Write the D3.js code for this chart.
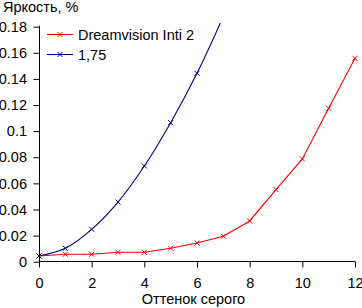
<!DOCTYPE html>
<html><head><meta charset="utf-8">
<script src="https://cdn.jsdelivr.net/npm/d3@7"></script>
<style>body{margin:0;background:#fff}svg{display:block}text{font-family:"Liberation Sans",Arial,sans-serif;font-size:14.5px;fill:#000}</style>
</head><body><svg id="c" width="362" height="308"></svg>
<script>
const categories = [0,1,2,3,4,5,6,7,8,9,10,11,12];
const seriesNames = ["Dreamvision Inti 2", "1,75"];
const dreamvision = [0.0044,0.0057,0.0057,0.0072,0.0072,0.0103,0.0143,0.0195,0.0312,0.0552,0.0787,0.1175,0.1558];
const gamma175 = [0.0044,0.0103,0.0248,0.0457,0.0733,0.1065,0.1443,0.188,0.236,0.290,0.349,0.414,0.484];
const xTicks = [0,2,4,6,8,10,12];
const yTicks = [0,0.02,0.04,0.06,0.08,0.1,0.12,0.14,0.16,0.18];
const colors = ["#ff0000","#000080"];

const svg = d3.select("#c");
const x = d3.scaleLinear().domain([0,12]).range([39,355]);
const y = d3.scaleLinear().domain([0,0.18]).range([261.7,26.7]);

svg.append("defs").append("clipPath").attr("id","clip")
  .append("rect").attr("x",30).attr("y",23).attr("width",332).attr("height",250);

const yAxis = svg.append("g").attr("transform","translate(39.5,0)")
  .call(d3.axisLeft(y).tickValues(yTicks).tickSize(6).tickPadding(6).tickFormat(d=>d===0?"0":String(+d.toFixed(2))));
yAxis.select(".domain").attr("d","M0,"+(y(0.18)-1)+"V"+y(0));
const xAxis = svg.append("g").attr("transform","translate(0,261.5)")
  .call(d3.axisBottom(x).tickValues(xTicks).tickSize(6).tickPadding(10).tickFormat(d3.format("d")));
xAxis.select(".domain").attr("d","M"+x(0)+",0H"+x(12));
svg.selectAll(".tick text").style("font-family","Liberation Sans, Arial, sans-serif").style("font-size","14.5px").attr("fill","#000");
svg.selectAll(".domain, .tick line").attr("stroke","#000");
yAxis.selectAll(".tick text").attr("x",-12.5);

svg.append("text").attr("x",3).attr("y",12).text("Яркость, %");
svg.append("text").attr("x",193.5).attr("y",303.5).attr("text-anchor","middle").text("Оттенок серого");

const line = d3.line().x((d,i)=>x(categories[i])).y(d=>y(d)).curve(d3.curveCatmullRom.alpha(0.5));
const plot = svg.append("g").attr("clip-path","url(#clip)");
[dreamvision, gamma175].forEach((s,k)=>{
  plot.append("path").attr("d",(k===0?d3.line().x((d,i)=>x(categories[i])).y(d=>y(d)):line)(s)).attr("fill","none").attr("stroke",colors[k]).attr("stroke-width",1.1);
  plot.selectAll(null).data(s).enter().append("path")
    .attr("transform",(d,i)=>`translate(${x(categories[i])},${y(d)})`)
    .attr("d","M-2.5,-2.5L2.5,2.5M-2.5,2.5L2.5,-2.5").attr("stroke",colors[k]).attr("stroke-width",1);
});

const lg = svg.append("g");
seriesNames.forEach((n,k)=>{
  const yy = 34.5 + k*20;
  lg.append("line").attr("x1",47).attr("x2",73).attr("y1",yy).attr("y2",yy).attr("stroke",colors[k]).attr("stroke-width",1.1);
  lg.append("path").attr("transform",`translate(60,${yy})`).attr("d","M-2.5,-2.5L2.5,2.5M-2.5,2.5L2.5,-2.5").attr("stroke",colors[k]);
  lg.append("text").attr("x",78).attr("y",yy+5).text(n);
});
</script></body></html>
